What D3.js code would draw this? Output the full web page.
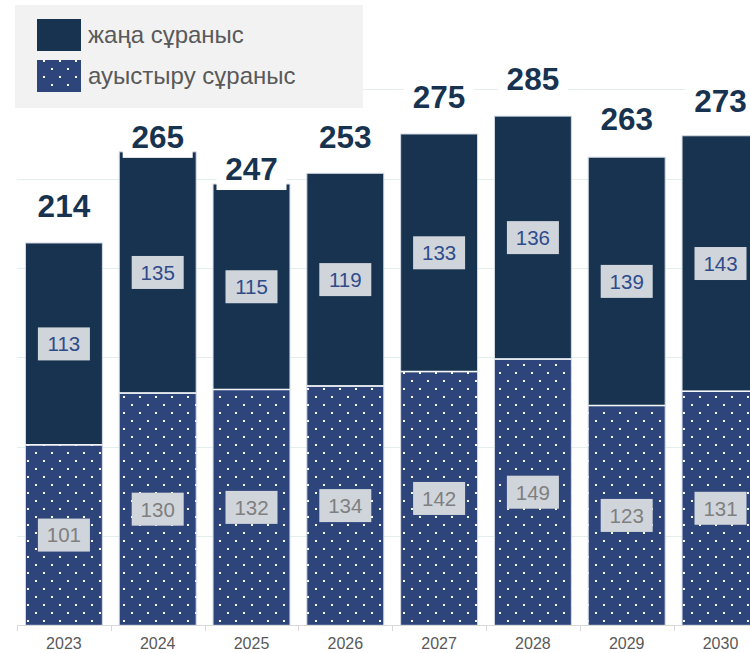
<!DOCTYPE html>
<html><head><meta charset="utf-8">
<script src="https://cdn.jsdelivr.net/npm/d3@7/dist/d3.min.js"></script>
<style>html,body{margin:0;padding:0;background:#fff;}svg{display:block;font-family:"Liberation Sans",Arial,sans-serif;}</style>
</head><body>
<svg id="c" width="750" height="653"></svg>
<script>
const years = ["2023","2024","2025","2026","2027","2028","2029","2030"];
const replacementDemand = [101,130,132,134,142,149,123,131];
const newDemand = [113,135,115,119,133,136,139,143];
const totals = [214,265,247,253,275,285,263,273];
const seriesNames = ["жаңа сұраныс","ауыстыру сұраныс"];
const gridTicks = [0,50,100,150,200,250,300];

const svg = d3.select("#c");
const W = 750;
const x = d3.scaleBand().domain(years).range([17, 767.4]).paddingInner(0.18).paddingOuter(0.09);
const y = d3.scaleLinear().domain([0,350]).range([625.3, 0]);
const legendBox = {x:15, y:5, w:348, h:103};

const defs = svg.append("defs");
const pat = defs.append("pattern").attr("id","dots").attr("patternUnits","userSpaceOnUse")
  .attr("width",16).attr("height",16).attr("x",1).attr("y",2);
pat.append("rect").attr("width",16).attr("height",16).attr("fill","#2e457c");
pat.append("rect").attr("x",2).attr("y",2).attr("width",2).attr("height",2).attr("fill","#fff");
pat.append("rect").attr("x",10).attr("y",10).attr("width",2).attr("height",2).attr("fill","#fff");

// gridlines
svg.append("g").selectAll("line").data(gridTicks.filter(d=>d>0)).join("line")
  .attr("x1",17).attr("x2",W).attr("y1",d=>Math.round(y(d))+0.5).attr("y2",d=>Math.round(y(d))+0.5)
  .attr("stroke","#e2eeeb").attr("stroke-width",1);

const rows = years.map((yr,i)=>({yr, rep:replacementDemand[i], nw:newDemand[i], tot:totals[i]}));

// bars
const g = svg.append("g");
g.selectAll("rect.rep").data(rows).join("rect").attr("class","rep")
  .attr("x",d=>x(d.yr)).attr("width",x.bandwidth())
  .attr("y",d=>y(d.rep)).attr("height",d=>y(0)-y(d.rep))
  .attr("fill","url(#dots)").attr("stroke","#d3dae4").attr("stroke-width",1);
g.selectAll("rect.nw").data(rows).join("rect").attr("class","nw")
  .attr("x",d=>x(d.yr)).attr("width",x.bandwidth())
  .attr("y",d=>y(d.rep+d.nw)).attr("height",d=>y(d.rep)-y(d.rep+d.nw))
  .attr("fill","#17334f").attr("stroke","#d3dae4").attr("stroke-width",1);
g.selectAll("line.sep").data(rows).join("line").attr("class","sep")
  .attr("x1",d=>x(d.yr)).attr("x2",d=>x(d.yr)+x.bandwidth())
  .attr("y1",d=>y(d.rep)).attr("y2",d=>y(d.rep))
  .attr("stroke","#f4f6f9").attr("stroke-width",1.5);

// segment labels
function segLabels(valFn, midFn, color){
  const lg = svg.append("g").selectAll("g").data(rows).join("g")
    .attr("transform",d=>`translate(${x(d.yr)+x.bandwidth()/2},${midFn(d)})`);
  lg.append("rect").attr("x",-26).attr("y",-16.5).attr("width",52).attr("height",33).attr("fill","#d0d5dc");
  lg.append("text").attr("text-anchor","middle").attr("dy","0.36em").attr("font-size",20.5)
    .attr("fill",color).text(valFn);
}
segLabels(d=>d.rep, d=>(y(0)+y(d.rep))/2, "#7f7f7f");
segLabels(d=>d.nw, d=>(y(d.rep)+y(d.rep+d.nw))/2, "#2f4b8a");

// total labels: normally well above the bar; pulled down close to the bar when near the legend
function totalY(d){
  const cx = x(d.yr)+x.bandwidth()/2;
  const normal = y(d.tot)-37;
  const nearLegend = cx < legendBox.x+legendBox.w-20 && (normal-21) < legendBox.y+legendBox.h+25;
  return nearLegend ? y(d.tot)-15 : normal;
}
const tg = svg.append("g").selectAll("g").data(rows).join("g")
  .attr("transform",d=>`translate(${x(d.yr)+x.bandwidth()/2},${totalY(d)})`);
tg.append("rect").attr("x",-35).attr("y",-21).attr("width",70).attr("height",42).attr("fill","#fff");
tg.append("text").attr("text-anchor","middle").attr("dy","0.36em").attr("font-size",31.5)
  .attr("font-weight","bold").attr("fill","#17334f").text(d=>d.tot);

// axis
const ax = svg.append("g");
ax.append("line").attr("x1",17).attr("x2",W).attr("y1",625.5).attr("y2",625.5).attr("stroke","#d9d9d9");
const bounds = d3.range(years.length+1).map(i=>x.range()[0]+i*x.step());
ax.selectAll("line.tk").data(bounds).join("line").attr("class","tk")
  .attr("x1",d=>Math.round(d)+0.5).attr("x2",d=>Math.round(d)+0.5).attr("y1",625).attr("y2",631)
  .attr("stroke","#d9d9d9");
const axG = svg.append("g").attr("transform","translate(0,625)").call(d3.axisBottom(x).tickSize(0).tickPadding(13));
axG.select(".domain").remove();
axG.selectAll("text").attr("font-size",16).attr("fill","#595959").attr("font-family","'Liberation Sans',Arial,sans-serif");

// legend
const leg = svg.append("g");
leg.append("rect").attr("x",legendBox.x).attr("y",legendBox.y).attr("width",legendBox.w).attr("height",legendBox.h).attr("fill","#f2f2f2");
const fills = ["#17334f","url(#dots)"];
seriesNames.forEach((n,i)=>{
  const yy = 19 + i*41;
  leg.append("rect").attr("x",37).attr("y",yy).attr("width",44).attr("height",32).attr("fill",fills[i]);
  leg.append("text").attr("x",88).attr("y",yy+16).attr("dy","0.35em").attr("font-size",24)
    .attr("fill","#595959").text(n);
});
</script>
</body></html>
